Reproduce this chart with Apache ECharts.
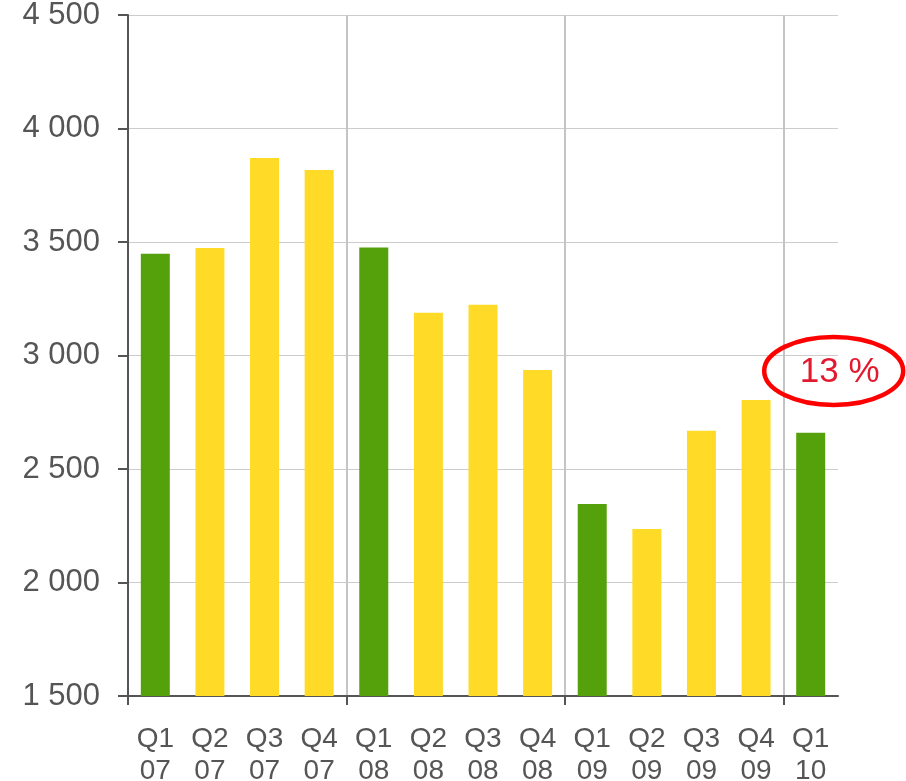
<!DOCTYPE html>
<html><head><meta charset="utf-8">
<script src="https://cdn.jsdelivr.net/npm/echarts@6/dist/echarts.min.js"></script>
<style>html,body{margin:0;padding:0;background:#fff}#c{width:906px;height:781px}</style>
</head><body><div id="c"></div>
<script>
var categories = ['Q1\n07','Q2\n07','Q3\n07','Q4\n07','Q1\n08','Q2\n08','Q3\n08','Q4\n08','Q1\n09','Q2\n09','Q3\n09','Q4\n09','Q1\n10'];
var values = [3448, 3474, 3870, 3817, 3476, 3188, 3224, 2936, 2346, 2236, 2668, 2804, 2660];
var isFirstQuarter = [true,false,false,false,true,false,false,false,true,false,false,false,true];
var yTicks = {min:1500, max:4500, interval:500};
var annotationText = '13 %';

var GREEN = '#54a10c', YELLOW = '#ffdb27';
var chart = echarts.init(document.getElementById('c'), null, {renderer:'canvas'});
var font = '"Liberation Sans", Arial, sans-serif';
// boundary slots between categories (for year separators)
var boundaries = [];
for (var i = 0; i <= categories.length; i++) boundaries.push('');
chart.setOption({
  animation:false,
  grid:{left:128, right:68, top:15, bottom:85, containLabel:false, outerBoundsMode:'none'},
  xAxis:[{
    type:'category', data:categories,
    axisLine:{lineStyle:{color:'#555', width:2}},
    axisTick:{show:false},
    splitLine:{show:false},
    axisLabel:{color:'#555', fontSize:28, fontFamily:font, lineHeight:32, margin:27, interval:0}
  },{
    type:'category', data:boundaries, boundaryGap:false, position:'bottom', offset:0,
    axisLine:{show:false},
    axisLabel:{show:false},
    axisTick:{show:true, interval:3, length:9, lineStyle:{color:'#555', width:2}},
    splitLine:{show:true, interval:3, lineStyle:{color:'#c4c4c4', width:2}}
  }],
  yAxis:{
    type:'value', min:yTicks.min, max:yTicks.max, interval:yTicks.interval,
    axisLine:{show:true, lineStyle:{color:'#555', width:2}},
    axisTick:{show:true, length:10, lineStyle:{color:'#555', width:2}},
    splitLine:{show:true, lineStyle:{color:'#cccccc', width:1}},
    axisLabel:{color:'#555', fontSize:31, fontFamily:font, margin:28,
      formatter:function(v){return String(v).replace(/\B(?=(\d{3})+(?!\d))/g,' ');}}
  },
  series:[{
    type:'bar', barWidth:29, xAxisIndex:0,
    data:values.map(function(v,i){return {value:v, itemStyle:{color:isFirstQuarter[i]?GREEN:YELLOW}};})
  }]
});
// annotation anchored to the last category
var p = chart.convertToPixel({xAxisIndex:0, yAxisIndex:0}, [categories.length-1, 2932]);
var cx = p[0] + 23, cy = p[1];
chart.setOption({graphic:[
  {type:'ellipse', shape:{cx:cx, cy:cy, rx:69.5, ry:34}, style:{fill:null, stroke:'#ff0000', lineWidth:4.5}, z:100},
  {type:'text', x:cx+6, y:cy+1, style:{text:annotationText, fill:'#e3192f', font:'35px '+font, align:'center', verticalAlign:'middle'}, z:101}
]});
</script></body></html>
